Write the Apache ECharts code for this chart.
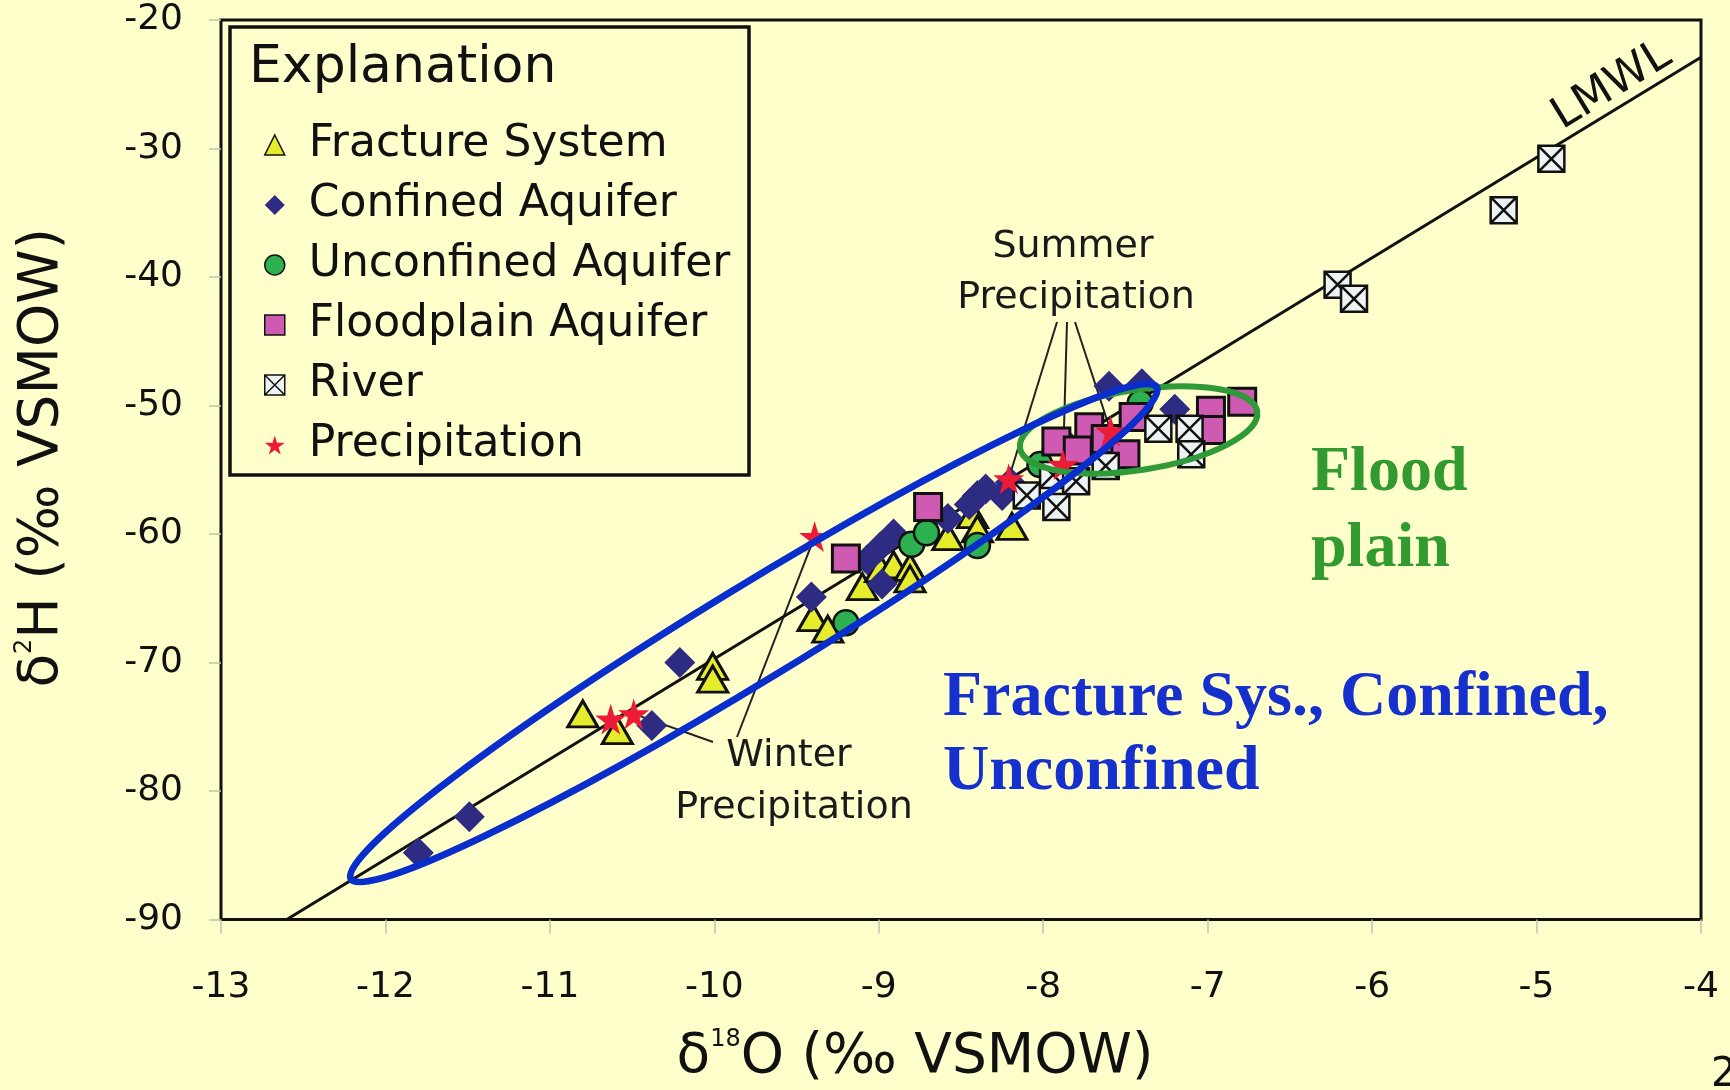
<!DOCTYPE html>
<html>
<head>
<meta charset="utf-8">
<script src="https://cdn.jsdelivr.net/npm/echarts@6.0.0/dist/echarts.min.js"></script>
<style>
html,body{margin:0;padding:0;background:#FFFFCC;}
#c{width:1730px;height:1090px;}
</style>
</head>
<body>
<div id="c"></div>
<script>
// ---------------- data ----------------
const xTicks = [-13, -12, -11, -10, -9, -8, -7, -6, -5, -4];
const yTicks = [-90, -80, -70, -60, -50, -40, -30, -20];

const fractureSystem = [
  [-10.80,-74.0],[-10.59,-75.3],[-10.01,-70.3],[-10.01,-71.3],[-9.40,-66.5],[-9.31,-67.4],
  [-9.10,-64.1],[-8.99,-62.7],[-8.91,-62.4],[-8.81,-62.6],[-8.81,-63.5],[-8.58,-60.2],
  [-8.43,-58.5],[-8.40,-59.6],[-8.19,-59.4]
];
const confinedAquifer = [
  [-11.80,-84.8],[-11.49,-82.0],[-10.38,-74.9],[-10.21,-70.0],[-9.41,-64.9],[-9.07,-62.0],
  [-8.99,-61.0],[-8.98,-63.9],[-8.91,-60.0],[-8.58,-58.8],[-8.45,-57.7],[-8.40,-57.0],
  [-8.35,-56.5],[-8.25,-57.0],[-8.20,-56.0],[-7.84,-53.2],[-7.60,-48.5],[-7.40,-48.3],[-7.20,-50.3]
];
const unconfinedAquifer = [
  [-9.20,-66.9],[-8.80,-60.8],[-8.71,-59.9],[-8.40,-60.9],[-8.02,-54.6],[-7.41,-49.8]
];
const floodplainAquifer = [
  [-9.20,-61.9],[-8.70,-57.9],[-7.92,-52.8],[-7.72,-51.7],[-7.79,-53.5],[-7.62,-52.6],
  [-7.50,-53.8],[-7.45,-50.9],[-6.98,-50.4],[-6.79,-49.7],[-6.98,-51.9]
];
const river = [
  [-4.91,-30.8],[-5.20,-34.8],[-6.21,-40.6],[-6.11,-41.7],[-7.30,-51.8],[-7.11,-51.8],
  [-7.10,-53.8],[-7.62,-54.7],[-7.94,-55.4],[-7.80,-55.9],[-8.10,-57.0],[-7.92,-57.9]
];
const precipitation = [
  [-10.63,-74.4],[-10.49,-74.0],[-9.39,-60.2],[-8.21,-55.7],[-7.88,-54.6],[-7.59,-52.0]
];
const lmwl = [[-12.6,-90.0],[-4.0,-22.9]];

const seriesNames = ['Fracture System','Confined Aquifer','Unconfined Aquifer','Floodplain Aquifer','River','Precipitation'];
const summerPoints = [precipitation[3], precipitation[4], precipitation[5]];
const winterPoints = [precipitation[2], precipitation[1]];
// annotation ellipse centres in data space
const blueEllipseCentre = [-9.76, -67.7];
const greenEllipseCentre = [-7.42, -51.9];

// ---------------- styles ----------------
const SANS = '"DejaVu Sans", "Liberation Sans", Arial, sans-serif';
const SERIF = '"Liberation Serif", "Times New Roman", serif';
const INK = '#111111';
const STAR = 'path://M50,0 L61,35 L98,35 L68,57 L79,91 L50,70 L21,91 L32,57 L2,35 L39,35 Z';
const RIVER = 'path://M0,0 L10,0 L10,10 L0,10 Z M0,0 L10,10 M10,0 L0,10';

const chart = echarts.init(document.getElementById('c'), null, {renderer: 'canvas'});

const option = {
  backgroundColor: '#FFFFCC',
  animation: false,
  grid: {left: 221, right: 29, top: 20, bottom: 170, show: true, borderColor: INK, borderWidth: 3, backgroundColor: 'transparent'},
  xAxis: {
    type: 'value', min: xTicks[0], max: xTicks[xTicks.length-1], interval: 1,
    axisLine: {show: false},
    axisTick: {show: true, length: 14, lineStyle: {color: '#c4c4aa', width: 1.5}},
    splitLine: {show: false},
    axisLabel: {fontFamily: SANS, fontSize: 36, color: INK, margin: 50},
    name: '{a|δ}{s|18}{a|O (‰ VSMOW)}',
    nameLocation: 'middle', nameGap: 108,
    nameTextStyle: {
      padding: [0, 92, 0, 0],
      rich: {
        a: {fontFamily: SANS, fontSize: 55, color: INK, lineHeight: 60},
        s: {fontFamily: SANS, fontSize: 24, color: INK, verticalAlign: 'top', lineHeight: 60}
      }
    }
  },
  yAxis: {
    type: 'value', min: yTicks[0], max: yTicks[yTicks.length-1], interval: 10,
    axisLine: {show: false},
    axisTick: {show: true, length: 12, lineStyle: {color: '#c4c4aa', width: 1.5}},
    splitLine: {show: false},
    axisLabel: {fontFamily: SANS, fontSize: 36, color: INK, margin: 38},
    name: '{a|δ}{s|2}{a|H (‰ VSMOW)}',
    nameLocation: 'middle', nameGap: 148, nameRotate: 90,
    nameTextStyle: {
      padding: [0, 0, 0, 24],
      rich: {
        a: {fontFamily: SANS, fontSize: 55, color: INK, lineHeight: 60},
        s: {fontFamily: SANS, fontSize: 24, color: INK, verticalAlign: 'top', lineHeight: 60}
      }
    }
  },
  legend: {
    orient: 'vertical', left: 259, top: 116,
    itemWidth: 20, itemHeight: 20, itemGap: 12,
    selectedMode: false,
    textStyle: {fontFamily: SANS, fontSize: 44, color: INK, lineHeight: 48, padding: [0, 0, 0, 19]},
    data: [
      {name: seriesNames[0], itemStyle: {borderWidth: 1.5}},
      {name: seriesNames[1], itemStyle: {borderWidth: 0}},
      {name: seriesNames[2], itemStyle: {borderWidth: 1.5}},
      {name: seriesNames[3], itemStyle: {borderWidth: 1.5}},
      {name: seriesNames[4], itemStyle: {borderWidth: 1.5}},
      {name: seriesNames[5], itemStyle: {borderWidth: 0}}
    ]
  },
  series: [
    {
      name: 'LMWL', type: 'line', data: lmwl, symbol: 'none', z: 1,
      lineStyle: {color: INK, width: 3}, silent: true
    },
    {
      name: seriesNames[0], type: 'scatter', data: fractureSystem, symbol: 'triangle', symbolSize: [30, 26], z: 3,
      itemStyle: {color: '#E4EC2C', borderColor: INK, borderWidth: 3, opacity: 1}
    },
    {
      name: seriesNames[1], type: 'scatter', data: confinedAquifer, symbol: 'diamond', symbolSize: [31, 31], z: 4,
      itemStyle: {color: '#2E2C82', borderWidth: 0, opacity: 1}
    },
    {
      name: seriesNames[2], type: 'scatter', data: unconfinedAquifer, symbol: 'circle', symbolSize: 25, z: 5,
      itemStyle: {color: '#2DB050', borderColor: INK, borderWidth: 2.5, opacity: 1}
    },
    {
      name: seriesNames[3], type: 'scatter', data: floodplainAquifer, symbol: 'rect', symbolSize: 27, z: 6,
      itemStyle: {color: '#CE5AB2', borderColor: INK, borderWidth: 3, opacity: 1}
    },
    {
      name: seriesNames[4], type: 'scatter', data: river, symbol: RIVER, symbolSize: 26, z: 7,
      itemStyle: {color: '#EEF3F3', borderColor: INK, borderWidth: 2.5, opacity: 1}
    },
    {
      name: seriesNames[5], type: 'scatter', data: precipitation, symbol: STAR, symbolSize: 31, z: 8,
      itemStyle: {color: '#EE1B36', borderWidth: 0, opacity: 1}
    }
  ]
};

chart.setOption(option);

const P = (pt) => chart.convertToPixel({gridIndex: 0}, pt);
const deg = Math.PI / 180;

const graphics = [];
// legend frame + title
graphics.push({type: 'rect', z: 5, shape: {x: 230, y: 27, width: 519, height: 448},
  style: {fill: null, stroke: INK, lineWidth: 3.5}});
graphics.push({type: 'text', z: 5, x: 249, y: 68,
  style: {text: 'Explanation', fontFamily: SANS, fontSize: 52, fill: INK, align: 'left', verticalAlign: 'middle'}});

// summer precipitation label and leader lines
graphics.push({type: 'text', z: 10, x: 1073, y: 247,
  style: {text: 'Summer', fontFamily: SANS, fontSize: 38, fill: '#1a1a1a', align: 'center', verticalAlign: 'middle'}});
graphics.push({type: 'text', z: 10, x: 1076, y: 298,
  style: {text: 'Precipitation', fontFamily: SANS, fontSize: 38, fill: '#1a1a1a', align: 'center', verticalAlign: 'middle'}});
const summerStarts = [[1057, 322], [1067, 322], [1075, 322]];
summerPoints.forEach((pt, i) => {
  const q = P(pt);
  graphics.push({type: 'line', z: 1, shape: {x1: summerStarts[i][0], y1: summerStarts[i][1], x2: q[0], y2: q[1]},
    style: {stroke: '#222', lineWidth: 2}});
});

// winter precipitation label and leader lines
graphics.push({type: 'text', z: 10, x: 789, y: 756,
  style: {text: 'Winter', fontFamily: SANS, fontSize: 38, fill: '#1a1a1a', align: 'center', verticalAlign: 'middle'}});
graphics.push({type: 'text', z: 10, x: 794, y: 808,
  style: {text: 'Precipitation', fontFamily: SANS, fontSize: 38, fill: '#1a1a1a', align: 'center', verticalAlign: 'middle'}});
const winterStarts = [[737, 737], [713, 742]];
winterPoints.forEach((pt, i) => {
  const q = P(pt);
  graphics.push({type: 'line', z: 1, shape: {x1: winterStarts[i][0], y1: winterStarts[i][1], x2: q[0], y2: q[1]},
    style: {stroke: '#222', lineWidth: 2}});
});

// LMWL label
graphics.push({type: 'text', z: 10, x: 1612, y: 86, rotation: 31.4 * deg,
  style: {text: 'LMWL', fontFamily: SANS, fontSize: 44, fill: INK, align: 'center', verticalAlign: 'middle'}});

// ellipses
const gc = P(greenEllipseCentre);
graphics.push({type: 'ellipse', z: 20, x: gc[0], y: gc[1], rotation: 8.8 * deg,
  shape: {cx: 0, cy: 0, rx: 120, ry: 40}, style: {fill: null, stroke: '#2E9A38', lineWidth: 6}});
const bc = P(blueEllipseCentre);
graphics.push({type: 'ellipse', z: 21, x: bc[0], y: bc[1], rotation: 31.4 * deg,
  shape: {cx: 0, cy: 0, rx: 472, ry: 47}, style: {fill: null, stroke: '#0A2ECC', lineWidth: 7}});

// group annotations
graphics.push({type: 'text', z: 22, x: 1311, y: 473,
  style: {text: 'Flood', fontFamily: SERIF, fontWeight: 'bold', fontSize: 64, fill: '#339A30', align: 'left', verticalAlign: 'middle'}});
graphics.push({type: 'text', z: 22, x: 1311, y: 549,
  style: {text: 'plain', fontFamily: SERIF, fontWeight: 'bold', fontSize: 64, fill: '#339A30', align: 'left', verticalAlign: 'middle'}});
graphics.push({type: 'text', z: 22, x: 943, y: 698,
  style: {text: 'Fracture Sys., Confined,', fontFamily: SERIF, fontWeight: 'bold', fontSize: 64, fill: '#1530CC', align: 'left', verticalAlign: 'middle'}});
graphics.push({type: 'text', z: 22, x: 943, y: 772,
  style: {text: 'Unconfined', fontFamily: SERIF, fontWeight: 'bold', fontSize: 64, fill: '#1530CC', align: 'left', verticalAlign: 'middle'}});

// slide page number (cut at the edge)
graphics.push({type: 'text', z: 22, x: 1711, y: 1076,
  style: {text: '2', fontFamily: SANS, fontSize: 40, fill: INK, align: 'left', verticalAlign: 'middle'}});

chart.setOption({graphic: {elements: graphics}});
</script>
</body>
</html>
